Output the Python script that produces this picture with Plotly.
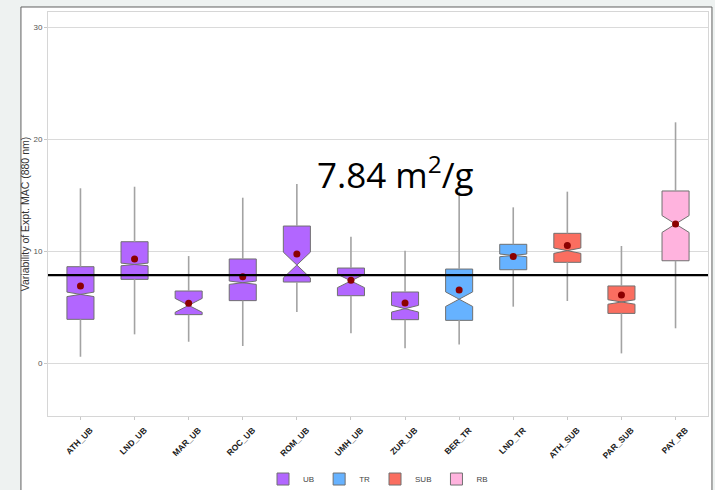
import plotly.graph_objects as go

# ---- data ----
categories = ["ATH_UB", "LND_UB", "MAR_UB", "ROC_UB", "ROM_UB", "UMH_UB", "ZUR_UB",
              "BER_TR", "LND_TR", "ATH_SUB", "PAR_SUB", "PAY_RB"]
groups = ["UB", "UB", "UB", "UB", "UB", "UB", "UB", "TR", "TR", "SUB", "SUB", "RB"]
lower_whisker = [0.56, 2.56, 1.90, 1.52, 4.55, 2.65, 1.31, 1.66, 5.03, 5.54, 0.86, 3.10]
q1_vals = [3.90, 7.47, 4.32, 5.57, 7.23, 6.01, 3.87, 3.81, 8.33, 8.99, 4.43, 9.13]
median_vals = [6.13, 8.80, 5.15, 7.17, 8.75, 7.33, 4.85, 5.70, 9.61, 10.03, 5.45, 12.41]
q3_vals = [8.60, 10.83, 6.43, 9.29, 12.23, 8.48, 6.34, 8.39, 10.60, 11.58, 6.88, 15.36]
upper_whisker = [15.60, 15.74, 9.55, 14.76, 15.98, 11.28, 10.03, 15.30, 13.90, 15.30, 10.45, 21.49]
mean_vals = [6.88, 9.29, 5.33, 7.71, 9.73, 7.38, 5.36, 6.52, 9.52, 10.50, 6.07, 12.41]
notch_span = [0.20, 0.12, 0.62, 0.15, 1.15, 0.60, 0.30, 0.65, 0.12, 0.24, 0.20, 0.75]
reference_value = 7.84
group_order = ["UB", "TR", "SUB", "RB"]
group_colors = {"UB": "#b266ff", "TR": "#66b2ff", "SUB": "#fa6e60", "RB": "#ffb3de"}
y_ticks = [0, 10, 20, 30]

fig = go.Figure()

# whiskers (drawn outside the boxes)
wx, wy = [], []
for c, lo, a, b, hi in zip(categories, lower_whisker, q1_vals, q3_vals, upper_whisker):
    wx += [c, c, None, c, c, None]
    wy += [lo, a, None, b, hi, None]
fig.add_trace(go.Scatter(x=wx, y=wy, mode="lines", line=dict(color="#a3a3a3", width=1.6),
                         showlegend=False, hoverinfo="skip"))

for g in group_order:
    idx = [i for i, gg in enumerate(groups) if gg == g]
    fig.add_trace(go.Box(
        name=g,
        x=[categories[i] for i in idx],
        q1=[q1_vals[i] for i in idx],
        median=[median_vals[i] for i in idx],
        q3=[q3_vals[i] for i in idx],
        lowerfence=[q1_vals[i] for i in idx],
        upperfence=[q3_vals[i] for i in idx],
        notchspan=[notch_span[i] for i in idx],
        notched=True, notchwidth=0.5, whiskerwidth=0,
        width=0.5,
        fillcolor=group_colors[g],
        line=dict(color="#707070", width=1),
        boxpoints=False,
    ))

fig.add_trace(go.Scatter(x=categories, y=mean_vals, mode="markers",
                         marker=dict(color="#8b0000", size=7),
                         showlegend=False, hoverinfo="skip"))

# slide-like background frame
fig.add_shape(type="rect", xref="paper", yref="paper",
              x0=-0.041, x1=1.006, y0=-0.2, y1=1.0124,
              fillcolor="white", line=dict(color="#606060", width=1), layer="below")

fig.add_shape(type="line", xref="paper", yref="y", x0=0, x1=1,
              y0=reference_value, y1=reference_value,
              line=dict(color="black", width=2.2))

fig.add_annotation(xref="paper", yref="paper", x=0.526, y=0.603,
                   text="7.84 m<sup>2</sup>/g", showarrow=False,
                   font=dict(family="Open Sans", size=35, color="black"),
                   xanchor="center", yanchor="middle")

fig.update_layout(
    width=715, height=490,
    margin=dict(l=48, r=7, t=12, b=74, autoexpand=False),
    paper_bgcolor="#eef2f1", plot_bgcolor="white",
    boxmode="overlay",
    font=dict(family="Liberation Sans", color="#333333"),
    legend=dict(orientation="h", x=0.5, xanchor="center", y=-0.156, yanchor="middle",
                font=dict(size=8, color="#444444"), bgcolor="rgba(0,0,0,0)",
                itemwidth=30),
    xaxis=dict(type="category", categoryorder="array", categoryarray=categories,
               range=[-0.6, len(categories) - 0.4],
               showgrid=False, showline=True, mirror=True, linecolor="#d6d6d6", linewidth=1,
               ticks="outside", ticklen=3, tickcolor="#c8c8c8",
               ticklabelshift=10, ticklabelstandoff=2, automargin=False,
               tickangle=-45, tickfont=dict(size=8.5, color="#1a1a1a", weight="bold")),
    yaxis=dict(range=[-4.73, 31.34], tickvals=y_ticks, ticktext=[str(v) for v in y_ticks],
               showgrid=True, gridcolor="#dadada", gridwidth=1, zeroline=False,
               showline=True, mirror=True, linecolor="#d6d6d6", linewidth=1,
               ticks="outside", ticklen=3, tickcolor="#c8c8c8", automargin=False,
               tickfont=dict(size=8, color="#555555"),
               title=dict(text="Variability of Expt. MAC (880 nm)",
                          font=dict(size=10.5, color="#333333"), standoff=1)),
)

fig.write_html("out.html",
               config={"displayModeBar": False},
               post_script="document.body.style.margin='0';"
                           "document.body.style.background='#eef2f1';")
